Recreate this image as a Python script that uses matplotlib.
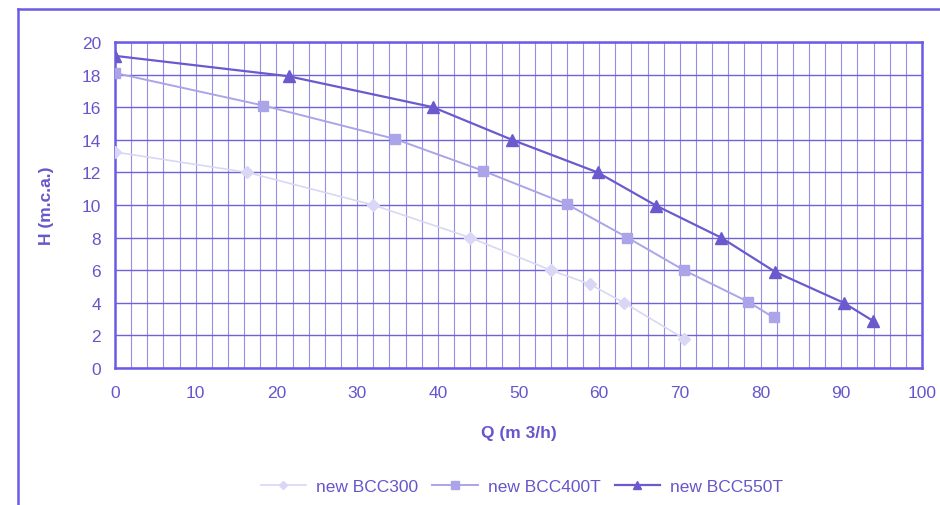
import matplotlib
matplotlib.use("Agg")
import matplotlib.pyplot as plt
from matplotlib.lines import Line2D
import numpy as np

plt.rcParams['font.family'] = ['Liberation Sans', 'DejaVu Sans']

# Data
q300 = [0, 16.4, 32, 44, 54, 58.8, 63.1, 70.5]
h300 = [13.25, 12.0, 10.0, 8.0, 6.0, 5.15, 4.0, 1.8]

q400 = [0, 18.4, 34.7, 45.6, 56, 63.5, 70.5, 78.5, 81.6]
h400 = [18.1, 16.1, 14.05, 12.1, 10.05, 8.0, 6.0, 4.05, 3.1]

q550 = [0, 21.5, 39.4, 49.2, 59.8, 67.1, 75.1, 81.8, 90.3, 93.9]
h550 = [19.15, 17.9, 16.0, 14.0, 12.0, 9.95, 8.0, 5.9, 4.0, 2.9]

series_labels = ["new BCC300", "new BCC400T", "new BCC550T"]
x_ticks = [0, 10, 20, 30, 40, 50, 60, 70, 80, 90, 100]
y_ticks = [0, 2, 4, 6, 8, 10, 12, 14, 16, 18, 20]
x_label = "Q (m 3/h)"
y_label = "H (m.c.a.)"

text_c = "#6656cc"
vgrid_c = "#968ee0"
hgrid_c = "#7062d6"
frame_c = "#6a5ae6"

fig = plt.figure(figsize=(9.4, 5.06), dpi=100)
W, H = 940, 506
ax = fig.add_axes([115 / W, 1 - 369 / H, (922 - 115) / W, (369 - 43) / H])

ax.set_xlim(0, 100)
ax.set_ylim(0, 20)
ax.set_xticks(x_ticks)
ax.set_yticks(y_ticks)
ax.set_xticks(np.arange(0, 101, 2), minor=True)
ax.grid(which='both', axis='x', color=vgrid_c, linewidth=0.8)
ax.grid(which='major', axis='y', color=hgrid_c, linewidth=1.0)
ax.tick_params(which='both', length=0, labelsize=12.5, labelcolor=text_c, pad=10)
ax.tick_params(axis='x', pad=12)
for s in ax.spines.values():
    s.set_color(frame_c)
    s.set_linewidth(1.8)

ax.plot(q300, h300, color="#d9d6f6", linewidth=1.2, marker='D', markersize=6.5,
        markeredgecolor="#d9d6f6", markerfacecolor="#d9d6f6", label=series_labels[0], zorder=3)
ax.plot(q400, h400, color="#aba4e8", linewidth=1.4, marker='s', markersize=7.5,
        markeredgecolor="#aba4e8", markerfacecolor="#aba4e8", label=series_labels[1], zorder=3)
ax.plot(q550, h550, color="#6a5acd", linewidth=1.6, marker='^', markersize=8,
        markeredgecolor="#6a5acd", markerfacecolor="#6a5acd", label=series_labels[2], zorder=3)

ax.set_xlabel(x_label, fontsize=12.5, fontweight='bold', color=text_c, labelpad=18)
ax.set_ylabel(y_label, fontsize=12.5, fontweight='bold', color=text_c, labelpad=20)

leg = fig.legend(loc='center', bbox_to_anchor=(522 / W, 1 - 487 / H), ncol=3,
                 frameon=False, fontsize=12.5, handlelength=2.6, columnspacing=0.8,
                 handletextpad=0.6, markerscale=0.7)
for t in leg.get_texts():
    t.set_color(text_c)

# outer frame
fig.add_artist(Line2D([18 / W, 18 / W], [0, 1 - 10 / H], transform=fig.transFigure,
                      color=frame_c, linewidth=1.8))
fig.add_artist(Line2D([18 / W, 1], [1 - 10 / H, 1 - 10 / H], transform=fig.transFigure,
                      color=frame_c, linewidth=1.8))

fig.savefig("out.png", dpi=100)
